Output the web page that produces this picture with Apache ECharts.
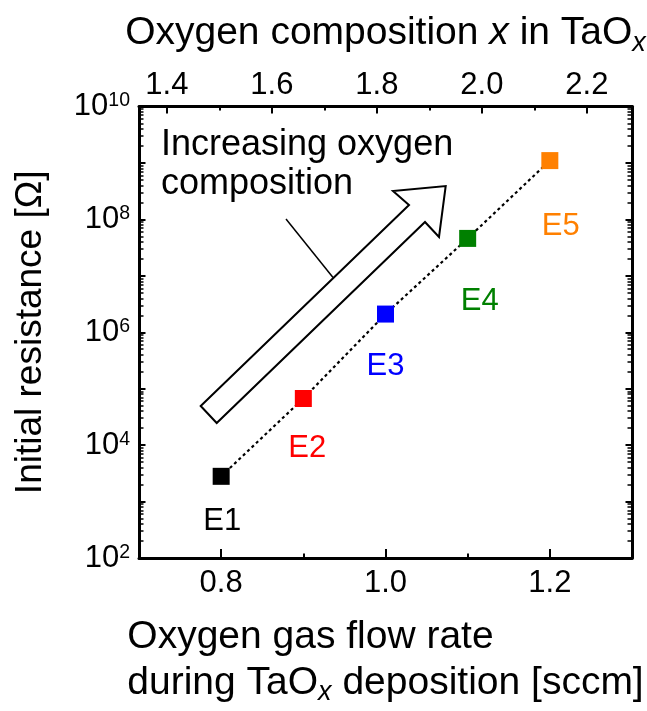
<!DOCTYPE html>
<html>
<head>
<meta charset="utf-8">
<script src="https://cdn.jsdelivr.net/npm/echarts@6/dist/echarts.min.js"></script>
<style>
  html, body { margin: 0; padding: 0; background: #ffffff; }
  #chart { width: 647px; height: 711px; }
</style>
</head>
<body>
<div id="chart"></div>
<script>
// Samples E1..E5: O2 flow rate during TaOx deposition vs. initial resistance
const sampleNames = ['E1', 'E2', 'E3', 'E4', 'E5'];
const flowRate = [0.8, 0.9, 1.0, 1.1, 1.2];            // sccm
const resistance = [2.8e3, 6.7e4, 2.1e6, 4.6e7, 1.1e9]; // ohm
const sampleColors = ['#000000', '#ff0000', '#0000ff', '#008000', '#ff8000'];
const labelOffsets = [[1, 45], [4, 50], [0, 52], [12, 63], [11, 66]];

// Axis ticks
const flowTicks = [0.8, 1.0, 1.2];
const flowMinorTicks = [0.9, 1.1];
const compositionTicks = [1.4, 1.6, 1.8, 2.0, 2.2];
const compositionMinorTicks = [1.5, 1.7, 1.9, 2.1];
const resistanceDecades = [2, 3, 4, 5, 6, 7, 8, 9];

const FONT = '"Liberation Sans", Arial, Helvetica, sans-serif';
const AXIS_W = 3;

// minor log ticks (2..9 within each decade) expressed as exponents
const minorLogTicks = [];
resistanceDecades.forEach(n => {
  for (let k = 2; k <= 9; k++) minorLogTicks.push(n + Math.log10(k));
});

const chart = echarts.init(document.getElementById('chart'), null, { renderer: 'canvas' });

const lineStyle = { color: '#000', width: AXIS_W };
const tickStyle = { color: '#000', width: 2 };
const minorTickStyle = { color: '#000', width: 1.5 };

const titleRich = {
  t: { fontSize: 39, lineHeight: 46, fontFamily: FONT, color: '#000', align: 'left', verticalAlign: 'middle' },
  i: { fontSize: 39, lineHeight: 46, fontFamily: FONT, color: '#000', fontStyle: 'italic', align: 'left', verticalAlign: 'middle' },
  s: { fontSize: 27, lineHeight: 20, fontFamily: FONT, color: '#000', fontStyle: 'italic', align: 'left', verticalAlign: 'bottom' }
};

const option = {
  backgroundColor: '#ffffff',
  animation: false,
  grid: {
    left: 139, right: 15, top: 106.5, bottom: 153,
    containLabel: false,
    outerBoundsMode: 'none'
  },
  xAxis: [
    {
      // bottom axis: oxygen gas flow rate
      type: 'value', position: 'bottom', min: 0.7, max: 1.3, interval: 0.1,
      axisLine: { show: true, onZero: false, lineStyle: lineStyle },
      axisTick: { show: true, inside: true, length: 9, customValues: flowTicks, lineStyle: tickStyle },
      axisLabel: {
        show: true, customValues: flowTicks, margin: 10,
        formatter: v => v.toFixed(1),
        fontSize: 31, fontFamily: FONT, color: '#000'
      },
      splitLine: { show: false },
      name: '{t|Oxygen gas flow rate}\n{t|during TaO}{s|x}{t| deposition [sccm]}',
      nameLocation: 'middle', nameGap: 56,
      nameTextStyle: { rich: titleRich, fontSize: 39, fontFamily: FONT, color: '#000' }
    },
    {
      // bottom minor ticks
      type: 'value', position: 'bottom', min: 0.7, max: 1.3, interval: 0.1,
      axisLine: { show: false, onZero: false },
      axisTick: { show: true, inside: true, length: 4.5, customValues: flowMinorTicks, lineStyle: tickStyle },
      axisLabel: { show: false },
      splitLine: { show: false }
    },
    {
      // top axis: oxygen composition x in TaOx
      type: 'value', position: 'top', min: 1.347, max: 2.286,
      axisLine: { show: true, onZero: false, lineStyle: lineStyle },
      axisTick: { show: true, inside: true, length: 7, customValues: compositionTicks, lineStyle: tickStyle },
      axisLabel: {
        show: true, customValues: compositionTicks, margin: 6,
        formatter: v => v.toFixed(1),
        fontSize: 31, fontFamily: FONT, color: '#000'
      },
      splitLine: { show: false },
      name: '{t|Oxygen composition }{i|x}{t| in TaO}{s|x}',
      nameLocation: 'middle', nameGap: 50,
      nameTextStyle: { rich: titleRich, fontSize: 39, fontFamily: FONT, color: '#000' }
    },
    {
      // top minor ticks
      type: 'value', position: 'top', min: 1.347, max: 2.286,
      axisLine: { show: false, onZero: false },
      axisTick: { show: true, inside: true, length: 4, customValues: compositionMinorTicks, lineStyle: tickStyle },
      axisLabel: { show: false },
      splitLine: { show: false }
    }
  ],
  yAxis: [
    {
      // left axis: initial resistance (log)
      type: 'log', logBase: 10, position: 'left', min: 1e2, max: 1e10, interval: 1,
      axisLine: { show: true, onZero: false, lineStyle: lineStyle },
      axisTick: { show: true, inside: true, length: 6.5, lineStyle: tickStyle },
      axisLabel: {
        show: true, margin: 9,
        formatter: v => {
          const e = Math.round(Math.log10(v));
          return e % 2 === 0 ? '{b|10}{p|' + e + '}' : '';
        },
        rich: {
          b: { fontSize: 31, fontFamily: FONT, color: '#000', verticalAlign: 'middle' },
          p: { fontSize: 19.5, lineHeight: 14, fontFamily: FONT, color: '#000', verticalAlign: 'top' }
        }
      },
      splitLine: { show: false },
      minorTick: { show: false },
      name: 'Initial resistance [Ω]',
      nameLocation: 'middle', nameGap: 90,
      nameTextStyle: { fontSize: 37, lineHeight: 37, fontFamily: FONT, color: '#000' }
    },
    {
      // left minor ticks (exponent space)
      type: 'value', position: 'left', min: 2, max: 10,
      axisLine: { show: false, onZero: false },
      axisTick: { show: true, inside: true, length: 4.5, customValues: minorLogTicks, lineStyle: minorTickStyle },
      axisLabel: { show: false },
      splitLine: { show: false }
    },
    {
      // right mirror axis
      type: 'log', logBase: 10, position: 'right', min: 1e2, max: 1e10, interval: 1,
      axisLine: { show: true, onZero: false, lineStyle: lineStyle },
      axisTick: { show: true, inside: true, length: 6.5, lineStyle: tickStyle },
      axisLabel: { show: false },
      splitLine: { show: false }
    },
    {
      // right minor ticks
      type: 'value', position: 'right', min: 2, max: 10,
      axisLine: { show: false, onZero: false },
      axisTick: { show: true, inside: true, length: 4.5, customValues: minorLogTicks, lineStyle: minorTickStyle },
      axisLabel: { show: false },
      splitLine: { show: false }
    }
  ],
  series: [
    {
      name: 'trend',
      type: 'line',
      xAxisIndex: 0, yAxisIndex: 0,
      data: flowRate.map((x, i) => [x, resistance[i]]),
      symbol: 'none',
      lineStyle: { color: '#000', width: 2.2, type: [3, 3], opacity: 1 },
      z: 2,
      silent: true
    },
    {
      name: 'samples',
      type: 'scatter',
      xAxisIndex: 0, yAxisIndex: 0,
      symbol: 'rect',
      symbolSize: 17,
      z: 3,
      itemStyle: { opacity: 1 },
      emphasis: { disabled: true },
      data: flowRate.map((x, i) => ({
        value: [x, resistance[i]],
        name: sampleNames[i],
        itemStyle: { color: sampleColors[i], opacity: 1 },
        label: {
          show: true,
          position: 'inside',
          offset: labelOffsets[i],
          formatter: sampleNames[i],
          color: sampleColors[i],
          opacity: 1,
          fontSize: 31,
          fontFamily: FONT
        }
      }))
    }
  ],
  graphic: [
    {
      // hollow arrow: increasing oxygen composition
      type: 'polygon',
      z: 10,
      shape: {
        points: [[200.7, 406], [409, 205], [393, 191], [445.7, 186], [439, 237], [425, 222], [216.7, 423]]
      },
      style: { fill: '#ffffff', stroke: '#000000', lineWidth: 2, lineJoin: 'miter' }
    },
    {
      type: 'line',
      z: 10,
      shape: { x1: 286, y1: 219, x2: 333, y2: 277.5 },
      style: { stroke: '#000000', lineWidth: 1.5 }
    },
    {
      type: 'text',
      z: 10,
      left: 161,
      top: 126,
      style: {
        text: 'Increasing oxygen\ncomposition',
        fontSize: 36,
        lineHeight: 39,
        fontFamily: FONT,
        fill: '#000000'
      }
    }
  ]
};

chart.setOption(option);
</script>
</body>
</html>
